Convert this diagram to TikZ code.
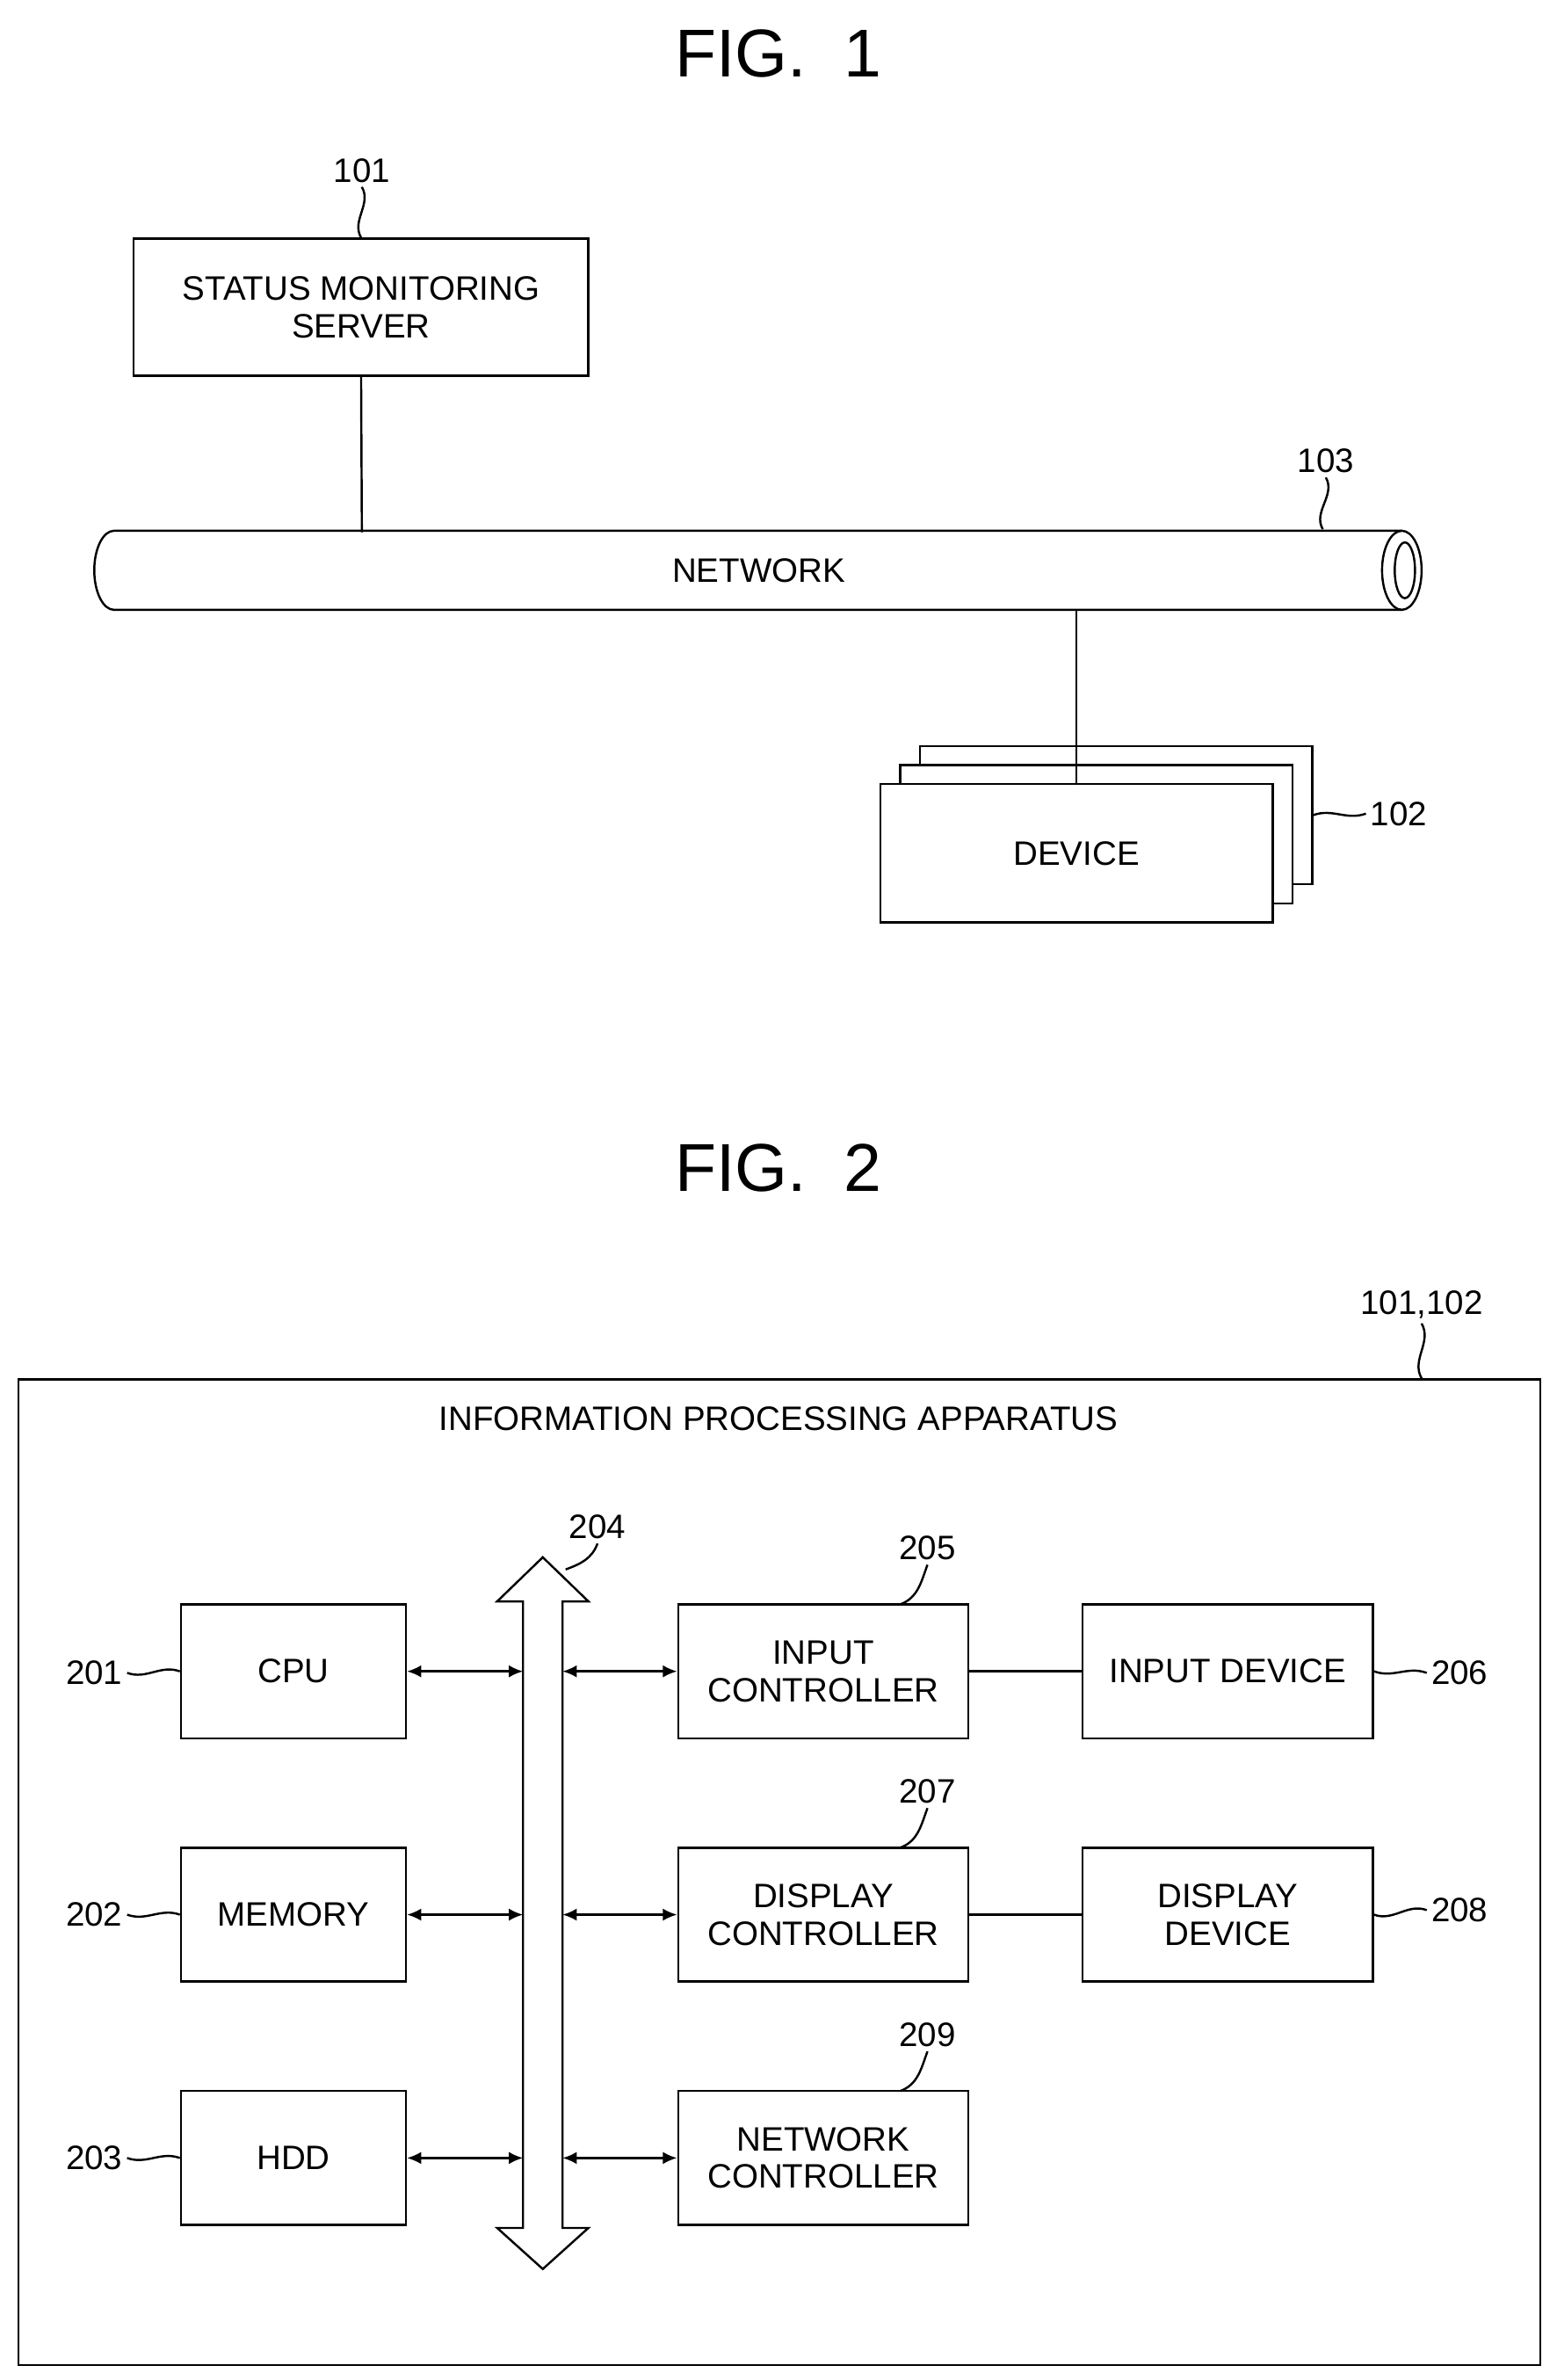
\documentclass[tikz,border=0pt]{standalone}
\usepackage{fontspec}
\setmainfont{Liberation Sans}
\usetikzlibrary{arrows.meta}
\begin{document}
\begin{tikzpicture}[x=0.03cm,y=-0.03cm,line width=1.2pt,
  box/.style={draw,fill=white,align=center,font=\fontsize{19}{21}\selectfont,inner sep=0pt},
  lbl/.style={font=\fontsize{19}{21}\selectfont,inner sep=2pt},
  ttl/.style={font=\fontsize{38}{40}\selectfont},
  dbl/.style={{Latex[length=8pt,width=7pt]}-{Latex[length=8pt,width=7pt]}}]
\useasboundingbox (0,0) rectangle (1024,1565);
% FIG 1
\node[ttl] (t1) at (512,35) {FIG.\ \ 1};
\node[box,minimum width=299*0.03cm,minimum height=90*0.03cm] (srv) at (237.5,202) {STATUS MONITORING\\SERVER};
\node[lbl] (l101) at (238,112) {101};
\draw (l101.south) to[out=-60,in=120] (srv.north);
% network cylinder
\draw (922,349) -- (75,349) arc[start angle=90,end angle=270,x radius=0.39cm,y radius=0.78cm] -- (922,401);
\draw (922,375) ellipse[x radius=0.39cm,y radius=0.78cm];
\draw (924,375) ellipse[x radius=0.2cm,y radius=0.55cm];
\coordinate (netsrv) at (238,350);
\coordinate (netdev) at (708,401);
\coordinate (net103) at (870,348);
\node[lbl] (net) at (499,375) {NETWORK};
\node[lbl] (l103) at (872,303) {103};
\draw (l103.south) to[out=-60,in=120] (net103);
\draw (srv.south) -- (netsrv);
% devices
\node[box,minimum width=258*0.03cm,minimum height=91*0.03cm] (d3) at (734,536) {};
\node[box,minimum width=258*0.03cm,minimum height=91*0.03cm] (d2) at (721,548.5) {};
\node[box,minimum width=258*0.03cm,minimum height=91*0.03cm] (dev) at (708,561) {DEVICE};
\draw (netdev) -- (dev.north);
\node[lbl] (l102) at (920,535) {102};
\draw (l102.west) to[out=200,in=20] (d3.east);
% FIG 2
\node[ttl] (t2) at (512,768) {FIG.\ \ 2};
\node[draw,minimum width=1001*0.03cm,minimum height=648*0.03cm,inner sep=0pt] (outer) at (512.5,1231) {};
\node[lbl] (lout) at (935,858) {101,102};
\draw (lout.south) to[out=-60,in=120] (outer.north east -| 935,907);
\node[lbl] (ipa) at (512,933) {INFORMATION PROCESSING APPARATUS};
\tikzset{sb/.style={box,minimum width=148*0.03cm,minimum height=88*0.03cm},
  mb/.style={box,minimum width=191*0.03cm,minimum height=88*0.03cm}}
\node[sb] (cpu) at (193,1099) {CPU};
\node[sb] (mem) at (193,1259) {MEMORY};
\node[sb] (hdd) at (193,1419) {HDD};
\node[mb] (ic) at (541.5,1099) {INPUT\\CONTROLLER};
\node[mb] (dc) at (541.5,1259) {DISPLAY\\CONTROLLER};
\node[mb] (nc) at (541.5,1419) {NETWORK\\CONTROLLER};
\node[mb] (id) at (807.5,1099) {INPUT DEVICE};
\node[mb] (dd) at (807.5,1259) {DISPLAY\\DEVICE};
% bus
\draw (344,1053) -- (327,1053) -- (357,1024) -- (387,1053) -- (370,1053) -- (370,1465) -- (387,1465) -- (357,1492) -- (327,1465) -- (344,1465) -- cycle;
\foreach \n/\y in {a/1099,b/1259,c/1419}{
  \coordinate (bl\n) at (344,\y);
  \coordinate (br\n) at (370,\y);}
\draw[dbl] (cpu.east) -- (bla);
\draw[dbl] (mem.east) -- (blb);
\draw[dbl] (hdd.east) -- (blc);
\draw[dbl] (bra) -- (ic.west);
\draw[dbl] (brb) -- (dc.west);
\draw[dbl] (brc) -- (nc.west);
\draw (ic) -- (id);
\draw (dc) -- (dd);
% labels
\node[lbl] (l201) at (62,1100) {201};
\node[lbl] (l202) at (62,1259) {202};
\node[lbl] (l203) at (62,1419) {203};
\draw (l201.east) to[out=-20,in=160] (cpu.west);
\draw (l202.east) to[out=-20,in=160] (mem.west);
\draw (l203.east) to[out=-20,in=160] (hdd.west);
\node[lbl] (l206) at (960,1100) {206};
\node[lbl] (l208) at (960,1256) {208};
\draw (id.east) to[out=-20,in=160] (l206.west);
\draw (dd.east) to[out=-20,in=160] (l208.west);
\node[lbl] (l205) at (610,1018) {205};
\node[lbl] (l207) at (610,1178) {207};
\node[lbl] (l209) at (610,1338) {209};
\node[lbl] (l204) at (393,1004) {204};
\coordinate (c205) at (592,1055);
\coordinate (c207) at (592,1215);
\coordinate (c209) at (592,1375);
\coordinate (c204) at (372,1032);
\draw (l205.south) to[out=-110,in=20] (c205);
\draw (l207.south) to[out=-110,in=20] (c207);
\draw (l209.south) to[out=-110,in=20] (c209);
\draw (l204.south) to[out=-110,in=20] (c204);
\end{tikzpicture}
\end{document}
